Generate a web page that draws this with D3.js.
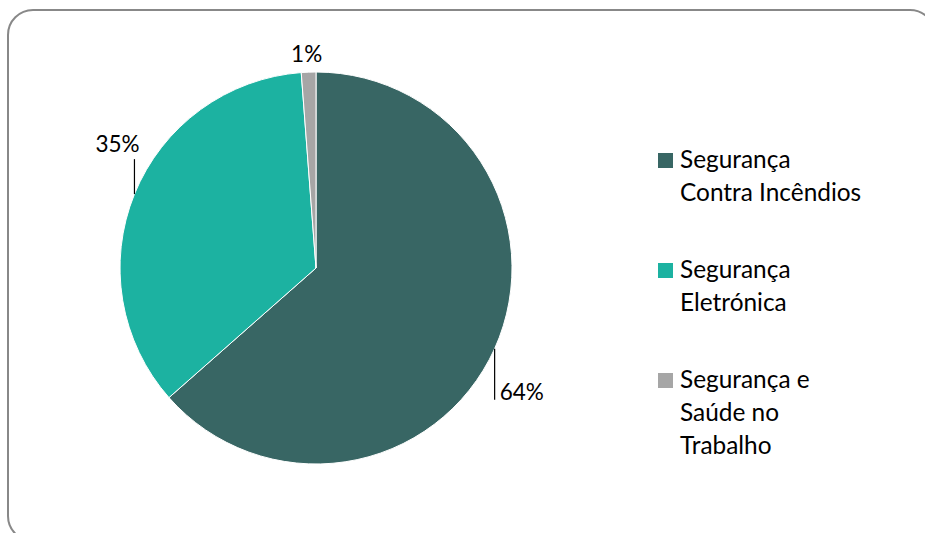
<!DOCTYPE html>
<html>
<head>
<meta charset="utf-8">
<script src="https://cdn.jsdelivr.net/npm/d3@7"></script>
<style>
  html, body { margin: 0; padding: 0; background: #fff; }
  svg { display: block; }
  text { font-family: Lato, "Open Sans", sans-serif; fill: #000; }
</style>
</head>
<body>
<svg id="chart" width="925" height="533"></svg>
<script>
// ---- data ----
const categories = ["Segurança Contra Incêndios", "Segurança Eletrónica", "Segurança e Saúde no Trabalho"];
const values = [63.5, 35.3, 1.2];
const labels = ["64%", "35%", "1%"];
const legendLines = [["Segurança", "Contra Incêndios"], ["Segurança", "Eletrónica"], ["Segurança e", "Saúde no", "Trabalho"]];
const colors = ["#386664", "#1cb2a1", "#a6a6a6"];

const svg = d3.select("#chart");

// frame
svg.append("rect")
  .attr("x", 8).attr("y", 10).attr("width", 927).attr("height", 531)
  .attr("rx", 25).attr("ry", 25)
  .attr("fill", "#fff").attr("stroke", "#888").attr("stroke-width", 2);

const cx = 316, cy = 268, R = 196;
const color = d3.scaleOrdinal().domain(categories).range(colors);
const pie = d3.pie().sort(null).value(d => d.v);
const data = pie(categories.map((c, i) => ({ c, v: values[i], label: labels[i], i })));
const arc = d3.arc().innerRadius(0).outerRadius(R);

const g = svg.append("g").attr("transform", `translate(${cx},${cy})`);
g.selectAll("path.slice").data(data).join("path")
  .attr("class", "slice")
  .attr("d", arc)
  .attr("fill", d => color(d.data.c))
  .attr("stroke", "#fff").attr("stroke-width", 1);

// labels with leader lines (Excel "outside end" style)
const labelFont = 22.5;
const place = [
  { dy: 51, tx: 5, ty: 51, anchor: "start", line: true },
  { dy: -35, tx: -17, ty: -42, anchor: "middle", line: true },
  { dy: 0, tx: -2, ty: -10, anchor: "middle", line: false }
];
data.forEach((d, i) => {
  const a = (d.startAngle + d.endAngle) / 2;
  const px = R * Math.sin(a), py = -R * Math.cos(a);
  const p = place[i];
  if (p.line) {
    g.append("line")
      .attr("x1", px).attr("y1", py).attr("x2", px).attr("y2", py + p.dy)
      .attr("stroke", "#000").attr("stroke-width", 1.2);
  }
  g.append("text")
    .attr("x", px + p.tx).attr("y", py + p.ty)
    .attr("text-anchor", p.anchor)
    .attr("font-size", labelFont)
    .text(d.data.label);
});

// legend
const lg = svg.append("g").attr("transform", "translate(658,0)");
const lineH = 33;
let y = 168;
categories.forEach((c, i) => {
  lg.append("rect")
    .attr("x", 0).attr("y", y - 15).attr("width", 15).attr("height", 15)
    .attr("fill", color(c));
  legendLines[i].forEach((t, j) => {
    lg.append("text")
      .attr("x", 22).attr("y", y + j * lineH)
      .attr("font-size", 24.4)
      .text(t);
  });
  y += (legendLines[i].length - 1) * lineH + 77;
});
</script>
</body>
</html>
